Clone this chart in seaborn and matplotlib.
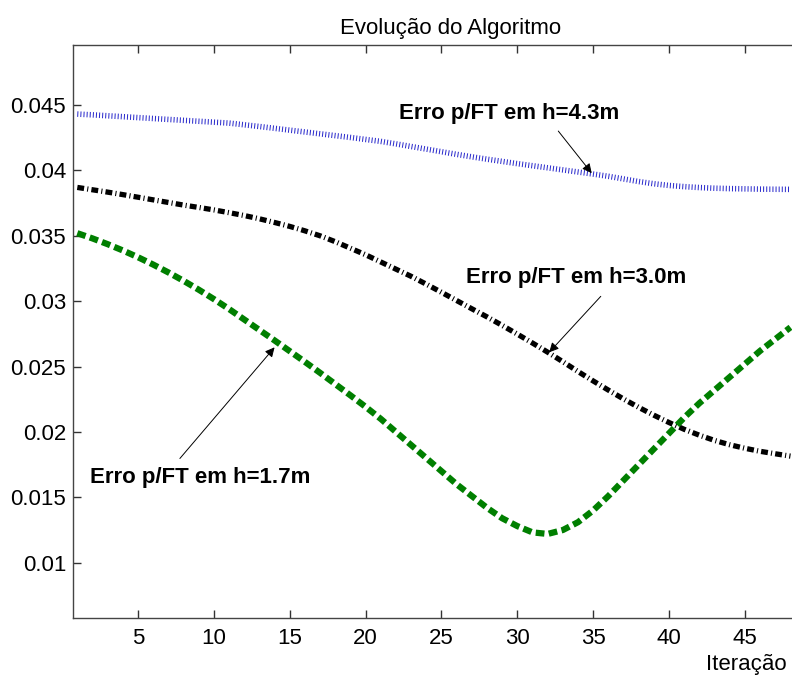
import matplotlib
matplotlib.use('Agg')
import matplotlib.pyplot as plt
import matplotlib.transforms as mtransforms
from matplotlib.ticker import FuncFormatter
import numpy as np
import pandas as pd
import seaborn as sns

# iterations 1..48
iteracao = list(range(1, 49))

erro_h43 = [0.04431, 0.04425, 0.04418, 0.04411, 0.04404, 0.04397, 0.04390, 0.04383,
            0.04376, 0.04369, 0.04362, 0.04349, 0.04336, 0.04322, 0.04308, 0.04294,
            0.04280, 0.04266, 0.04252, 0.04237, 0.04222, 0.04203, 0.04183, 0.04163,
            0.04143, 0.04123, 0.04104, 0.04086, 0.04069, 0.04052, 0.04036, 0.04020,
            0.04004, 0.03988, 0.03972, 0.03955, 0.03935, 0.03915, 0.03898, 0.03885,
            0.03876, 0.03869, 0.03864, 0.03861, 0.03859, 0.03857, 0.03856, 0.03855]

erro_h30 = [0.03870, 0.03852, 0.03834, 0.03815, 0.03795, 0.03775, 0.03755, 0.03735,
            0.03717, 0.03698, 0.03677, 0.03655, 0.03630, 0.03602, 0.03572, 0.03538,
            0.03500, 0.03455, 0.03405, 0.03355, 0.03300, 0.03245, 0.03190, 0.03130,
            0.03068, 0.03005, 0.02942, 0.02880, 0.02815, 0.02748, 0.02680, 0.02610,
            0.02537, 0.02462, 0.02390, 0.02320, 0.02252, 0.02188, 0.02128, 0.02072,
            0.02020, 0.01975, 0.01935, 0.01902, 0.01875, 0.01852, 0.01833, 0.01815]

erro_h17 = [0.03520, 0.03480, 0.03436, 0.03388, 0.03336, 0.03280, 0.03220, 0.03156,
            0.03088, 0.03016, 0.02940, 0.02860, 0.02780, 0.02700, 0.02618, 0.02536,
            0.02452, 0.02366, 0.02280, 0.02192, 0.02100, 0.02000, 0.01900, 0.01800,
            0.01700, 0.01600, 0.01510, 0.01420, 0.01340, 0.01280, 0.01232, 0.01220,
            0.01250, 0.01310, 0.01400, 0.01510, 0.01630, 0.01750, 0.01870, 0.01990,
            0.02110, 0.02220, 0.02320, 0.02420, 0.02520, 0.02620, 0.02710, 0.02800]

titulo = 'Evolução do Algoritmo'
rotulos = ['Erro p/FT em h=4.3m', 'Erro p/FT em h=3.0m', 'Erro p/FT em h=1.7m']

sns.set_style('ticks')
plt.rcParams['font.family'] = ['Liberation Sans', 'DejaVu Sans']
plt.rcParams['text.color'] = 'black'

df = pd.DataFrame({'it': iteracao, 'h43': erro_h43, 'h30': erro_h30, 'h17': erro_h17})

fig = plt.figure(figsize=(7.92, 6.79), dpi=100)
ax = fig.add_axes([0.0922, 0.0898, 0.9545, 0.8439])

sns.lineplot(data=df, x='it', y='h43', color='#2a2acc', lw=4, ax=ax)
ax.lines[-1].set_linestyle((0, (0.18, 0.38)))
ax.lines[-1].set_dash_capstyle('butt')
sns.lineplot(data=df, x='it', y='h30', color='black', lw=3.8, ax=ax)
ax.lines[-1].set_linestyle((0, (1.3, 0.6, 0.2, 0.6)))
ax.lines[-1].set_dash_capstyle('butt')
sns.lineplot(data=df, x='it', y='h17', color='#007f00', lw=4.5, ax=ax)
ax.lines[-1].set_linestyle((0, (1.4, 0.7)))
ax.lines[-1].set_dash_capstyle('butt')

ax.set_xlim(0.718, 50.54)
ax.set_ylim(0.00577, 0.04959)
ax.set_xticks([5, 10, 15, 20, 25, 30, 35, 40, 45])
ax.set_yticks([0.01, 0.015, 0.02, 0.025, 0.03, 0.035, 0.04, 0.045])
ax.yaxis.set_major_formatter(FuncFormatter(lambda v, p: '%g' % v))
ax.tick_params(direction='in', length=6, width=1, top=True, right=True,
               labelsize=16, colors='#333333', labelcolor='black')
ax.tick_params(axis='x', pad=7)
ax.tick_params(axis='y', pad=5)
for s in ax.spines.values():
    s.set_color('#444444')
    s.set_linewidth(1)
ax.set_xlabel('')
ax.set_ylabel('')
ax.set_title(titulo, fontsize=16, pad=8, color='black')

trans = mtransforms.blended_transform_factory(ax.transData, ax.transAxes)
ax.text(45.1, -0.0908, 'Iteração', fontsize=16, ha='center', va='baseline',
        color='black', transform=trans)

arrow = dict(arrowstyle='-|>', lw=0.7, color='black', mutation_scale=14, shrinkA=0, shrinkB=0)
ax.annotate('', xy=(34.9, 0.03979), xytext=(32.7, 0.04301), arrowprops=arrow)
ax.annotate('', xy=(32.1, 0.02609), xytext=(35.5, 0.03037), arrowprops=arrow)
ax.annotate('', xy=(14.0, 0.02647), xytext=(7.76, 0.01797), arrowprops=arrow)
ax.text(22.2, 0.04439, rotulos[0], fontsize=16, fontweight='bold', ha='left', va='center', color='black')
ax.text(26.6, 0.03183, rotulos[1], fontsize=16, fontweight='bold', ha='left', va='center', color='black')
ax.text(1.84, 0.01652, rotulos[2], fontsize=16, fontweight='bold', ha='left', va='center', color='black')

fig.savefig('out.png', dpi=100)
